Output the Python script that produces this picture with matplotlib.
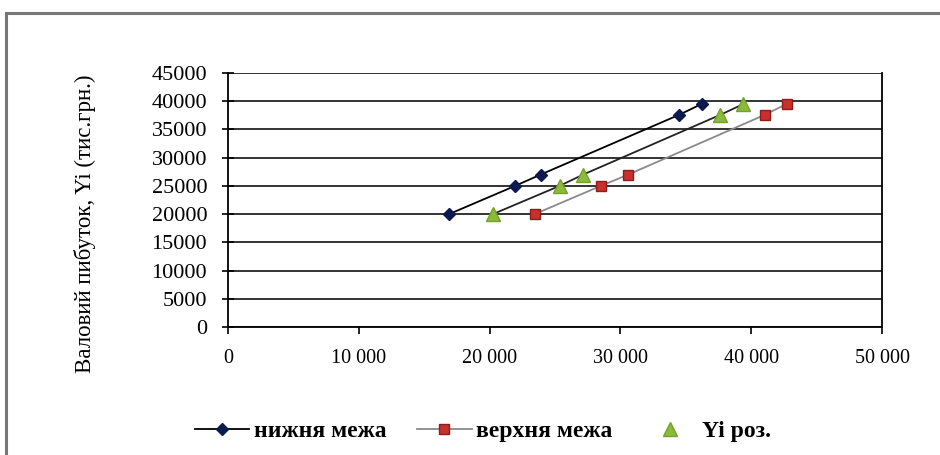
import matplotlib.pyplot as plt
from matplotlib.ticker import FuncFormatter
from matplotlib.lines import Line2D

plt.rcParams['font.family'] = ['Liberation Serif', 'DejaVu Serif']

# Gross profit levels (thousand UAH) and corresponding x values
y_vals = [20000, 25000, 27000, 37600, 39500]
x_lower = [16900, 21950, 23900, 34500, 36200]
x_upper = [23450, 28500, 30600, 41050, 42700]
x_calc = [20250, 25350, 27150, 37650, 39400]

x_ticks = [0, 10000, 20000, 30000, 40000, 50000]
y_ticks = list(range(0, 45001, 5000))

fig = plt.figure(figsize=(9.4, 4.55), dpi=100)
ax = fig.add_axes([0.2426, 0.2813, 0.6957, 0.5583])

# outer frame of the picture
fig.add_artist(Line2D([6 / 940, 1.0], [1 - 13 / 455, 1 - 13 / 455], color='#777777', lw=2.2))
fig.add_artist(Line2D([6 / 940, 6 / 940], [0, 1 - 13 / 455], color='#777777', lw=2.2))

ax.plot(x_lower, y_vals, color='black', lw=1.3, marker='D', ms=6,
        mfc='#0d1a4f', mec='#0d1a4f', label='нижня межа', zorder=3)
ax.plot(x_upper, y_vals, color='#8a8a8a', lw=1.3, marker='s', ms=7.5,
        mfc='#c8302c', mec='#8e1c1c', label='верхня межа', zorder=3)
ax.plot(x_calc, y_vals, color='#222222', lw=1.3, zorder=2)
ax.plot(x_calc, y_vals, ls='none', marker='^', ms=10,
        mfc='#8cbb3c', mec='#74a02c', label='Yi роз.', zorder=4)

ax.set_xlim(0, 50000)
ax.set_ylim(0, 45000)
ax.set_xticks(x_ticks)
ax.set_yticks(y_ticks)
ax.xaxis.set_major_formatter(FuncFormatter(lambda v, p: f'{int(v):,}'.replace(',', ' ')))
ax.yaxis.set_major_formatter(FuncFormatter(lambda v, p: f'{int(v)}'))
ax.tick_params(axis='both', colors='black', width=1.2)
ax.tick_params(axis='y', direction='inout', length=8, labelsize=16, pad=11)
ax.tick_params(axis='x', direction='out', length=5, labelsize=14.5, pad=11)

ax.grid(axis='y', color='#333333', lw=1.4)
ax.set_axisbelow(True)
for side in ['left', 'bottom', 'right']:
    ax.spines[side].set_color('black')
    ax.spines[side].set_linewidth(1.3)
ax.spines['top'].set_visible(False)

ax.set_ylabel('Валовий пибуток, Yi (тис.грн.)', fontsize=16.5)
ax.yaxis.set_label_coords(-0.202, 0.405)

leg = ax.legend(loc='center', bbox_to_anchor=(0.39, -0.41), ncol=3, frameon=False,
                prop={'size': 17, 'weight': 'bold'}, handlelength=2.3,
                handletextpad=0.2, columnspacing=1.3)

fig.savefig('out.png', dpi=100)
